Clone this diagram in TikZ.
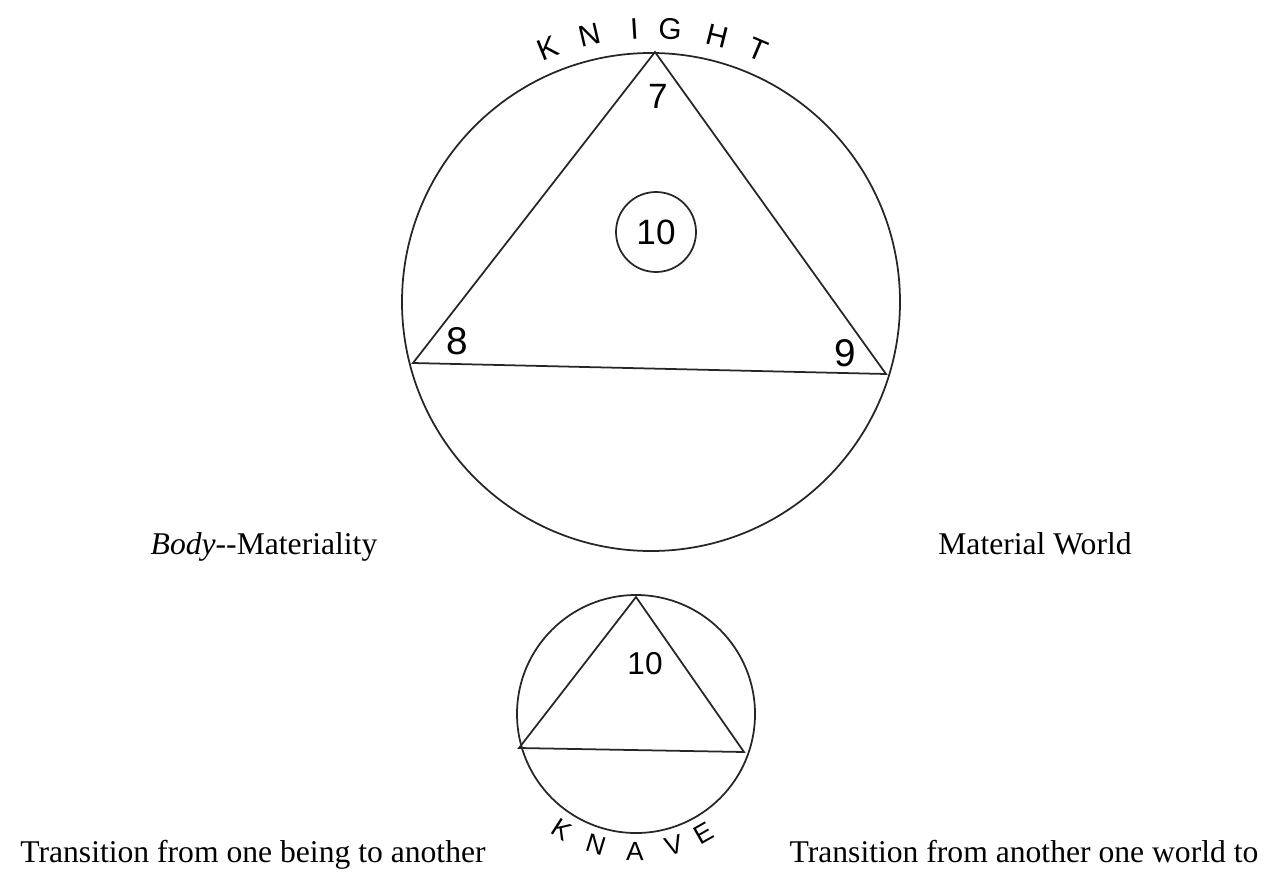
\documentclass[tikz,border=0pt]{standalone}
\usepackage{fontspec}
\setmainfont{Liberation Serif}
\newfontfamily\handfont{Liberation Sans}
\usepackage{tikz}
\usetikzlibrary{positioning,calc}
\tikzset{
  ink/.style={draw=black!85,line width=1pt},
  num/.style={font=\handfont\fontsize{20}{20}\selectfont,inner sep=0pt},
  letr/.style={font=\handfont\fontsize{17}{17}\selectfont,inner sep=0pt},
  caption/.style={font=\fontsize{18}{20}\selectfont,inner sep=0pt,anchor=base}
}

\begin{document}
\begin{tikzpicture}[x=0.02cm,y=0.02cm]
        \useasboundingbox (0,0) rectangle (1277,-875);
        % knight: big circle
        \coordinate (kc) at (651,-302);
        \coordinate (ka) at (655,-52);
        \coordinate (kl) at (413,-363);
        \coordinate (kr) at (886,-374);
        \draw[ink] (kc) circle (249);
        \draw[ink] (ka) -- (kl) -- (kr) -- cycle;
        \node[ink,circle,minimum size=1.6cm,num] (kten) at (656,-232) {10};
        \node[num] (kseven) at (658,-96) {7};
        \node[num,font=\handfont\fontsize{22}{22}\selectfont] (keight) at (457,-341) {8};
        \node[num,font=\handfont\fontsize{22}{22}\selectfont] (knine) at (845,-353) {9};
        \foreach \ch/\ang [count=\i] in {K/112,N/103,I/93.5,G/86,H/76,T/67}
          \node[letr,rotate=\ang-90] (kn\i) at ($(kc)+(\ang:274)$) {\ch};
        % knave: small circle
        \coordinate (vc) at (636,-714);
        \coordinate (va) at (636,-597);
        \coordinate (vl) at (519,-748);
        \coordinate (vr) at (744,-752);
        \draw[ink] (vc) circle (119);
        \draw[ink] (va) -- (vl) -- (vr) -- cycle;
        \node[num,font=\handfont\fontsize{18}{18}\selectfont] (vten) at (645,-664) {10};
        \foreach \ch/\ang [count=\i] in {K/-122.8,N/-107,A/-90.4,V/-74,E/-60.4}
          \node[letr,font=\handfont\fontsize{15}{15}\selectfont,rotate=\ang+90] (kv\i) at ($(vc)+(\ang:137)$) {\ch};
        % captions
        \node[caption] (body) at (264,-554) {\textit{Body}-{}-Materiality};
        \node[caption] (world) at (1035,-554) {Material World};
        \node[caption] (being) at (253,-862) {Transition from one being to another};
        \node[caption] (worldto) at (1024,-862) {Transition from another one world to};
      \end{tikzpicture}
\end{document}
